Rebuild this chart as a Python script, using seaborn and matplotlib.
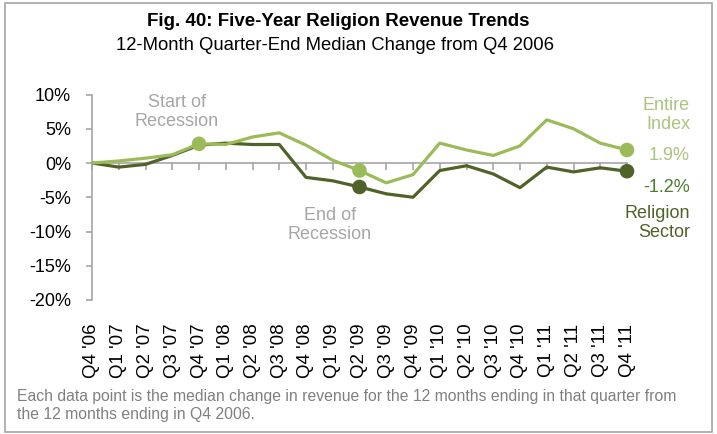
import matplotlib
matplotlib.use("Agg")
import matplotlib.pyplot as plt
import matplotlib.patches as mpatches
import seaborn as sns
import pandas as pd

# ---- data ----
quarters = ["Q4 '06", "Q1 '07", "Q2 '07", "Q3 '07", "Q4 '07", "Q1 '08", "Q2 '08",
            "Q3 '08", "Q4 '08", "Q1 '09", "Q2 '09", "Q3 '09", "Q4 '09", "Q1 '10",
            "Q2 '10", "Q3 '10", "Q4 '10", "Q1 '11", "Q2 '11", "Q3 '11", "Q4 '11"]
entire_index = [0.0, 0.3, 0.7, 1.2, 2.8, 2.7, 3.8, 4.4, 2.6, 0.4, -1.1, -2.9,
                -1.7, 2.9, 1.9, 1.1, 2.5, 6.3, 5.0, 2.9, 1.9]
religion_sector = [0.0, -0.6, -0.2, 1.1, 2.6, 2.9, 2.7, 2.7, -2.1, -2.6, -3.5, -4.5,
                   -5.0, -1.1, -0.4, -1.6, -3.6, -0.6, -1.3, -0.7, -1.2]
entire_marked = ["Q4 '07", "Q2 '09", "Q4 '11"]
religion_marked = ["Q2 '09", "Q4 '11"]
y_ticks = [10, 5, 0, -5, -10, -15, -20]

LIGHT = "#9BBB59"
DARK = "#4F6228"
GRAY = "#A6A6A6"

df = pd.DataFrame({
    "quarter": quarters * 2,
    "change": entire_index + religion_sector,
    "series": ["Entire Index"] * len(quarters) + ["Religion Sector"] * len(quarters),
})
pts = pd.concat([
    df[(df.series == "Religion Sector") & df.quarter.isin(religion_marked)],
    df[(df.series == "Entire Index") & df.quarter.isin(entire_marked)],
])

sns.set_theme(style="white")
plt.rcParams["font.family"] = ["Liberation Sans", "DejaVu Sans"]

W, H = 717, 434
fig = plt.figure(figsize=(W / 100, H / 100), dpi=100)
ax = fig.add_axes([92 / W, 1 - 300 / H, 535 / W, 205.5 / H])

palette = {"Entire Index": LIGHT, "Religion Sector": DARK}
order = ["Religion Sector", "Entire Index"]
sns.lineplot(data=df, x="quarter", y="change", hue="series", hue_order=order,
             palette=palette, sort=False, linewidth=2.3, legend=False, ax=ax, zorder=3)
sns.scatterplot(data=pts, x="quarter", y="change", hue="series", hue_order=order,
                palette=palette, s=110, linewidth=0, legend=False, ax=ax, zorder=4,
                clip_on=False)
for coll in ax.collections:
    coll.set_clip_on(False)

ax.set_xlim(0, len(quarters) - 1)
ax.set_ylim(-20, 10)
ax.set_yticks(y_ticks)
ax.set_yticklabels([f"{v}%" for v in y_ticks])
ax.set_xticks(range(len(quarters)))
ax.set_xticklabels(quarters, rotation=90, va="top", ha="center")
ax.set_xlabel("")
ax.set_ylabel("")

for s in ["top", "right", "bottom"]:
    ax.spines[s].set_visible(False)
ax.spines["left"].set_color(GRAY)
ax.spines["left"].set_linewidth(1.2)
ax.tick_params(axis="y", left=True, direction="out", length=4, width=1.2,
               color=GRAY, pad=11, labelsize=13, labelcolor="black")
ax.tick_params(axis="x", bottom=False, length=0, pad=17, labelsize=13.5, labelcolor="black")

# zero axis line with tick marks
sec = ax.secondary_xaxis(2 / 3)
sec.set_alignment("bottom")
sec.set_xticks(range(len(quarters)))
sec.set_xticklabels([])
sec.spines["bottom"].set_color(GRAY)
sec.spines["bottom"].set_linewidth(1.2)
sec.spines["top"].set_visible(False)
sec.tick_params(axis="x", direction="out", length=5, width=1.2, color=GRAY, bottom=True, top=False)

def ft(x, y, s, **kw):
    fig.text(x / W, 1 - y / H, s, **kw)

narrow = ["Liberation Sans Narrow", "Liberation Sans", "DejaVu Sans"]
ft(338, 21, "Fig. 40: Five-Year Religion Revenue Trends", ha="center", va="center",
   fontsize=13.5, fontweight="bold", family=narrow, color="black")
ft(335, 45, "12-Month Quarter-End Median Change from Q4 2006", ha="center", va="center",
   fontsize=13.3, family=narrow, color="black")

ft(177, 112, "Start of\nRecession", ha="center", va="center", fontsize=13,
   color=GRAY, linespacing=1.1)
ft(330, 225, "End of\nRecession", ha="center", va="center", fontsize=13,
   color=GRAY, linespacing=1.1)
ft(690, 115, "Entire\nIndex", ha="right", va="center", fontsize=13,
   color="#A9C47F", linespacing=1.1)
ft(690, 155, "1.9%", ha="right", va="center", fontsize=13, color="#A9C47F")
ft(690, 188, "-1.2%", ha="right", va="center", fontsize=13, color="#4E7A2E")
ft(690, 223, "Religion\nSector", ha="right", va="center", fontsize=13,
   color=DARK, linespacing=1.1)

ft(17, 397, "Each data point is the median change in revenue for the 12 months ending in that quarter from",
   ha="left", va="center", fontsize=11.3, family=narrow, color="#808080")
ft(17, 415, "the 12 months ending in Q4 2006.",
   ha="left", va="center", fontsize=11.3, family=narrow, color="#808080")

fig.patches.append(mpatches.Rectangle((5 / W, 2 / H), 707 / W, 429 / H,
                                      transform=fig.transFigure, fill=False,
                                      edgecolor=GRAY, linewidth=1.2))

fig.savefig("out.png", dpi=100)
